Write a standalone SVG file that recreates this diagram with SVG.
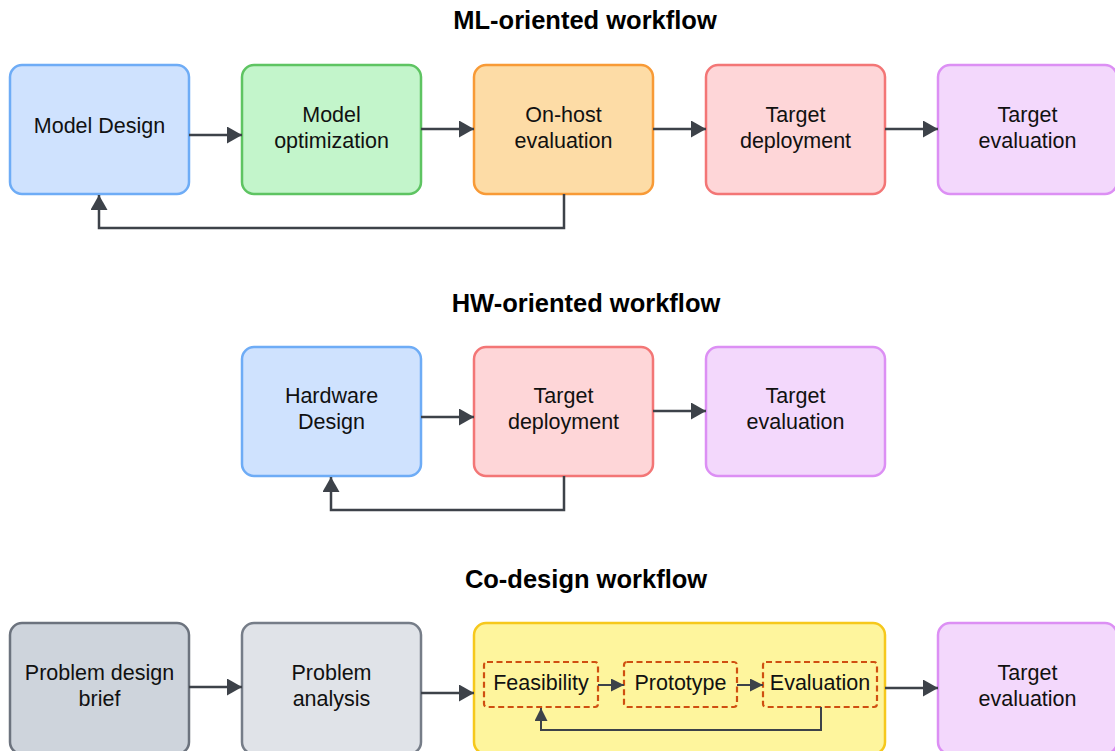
<svg xmlns="http://www.w3.org/2000/svg" width="1115" height="751" viewBox="0 0 1115 751">
<style>
.title{font-family:"Liberation Sans",Arial,sans-serif;font-size:25.5px;font-weight:bold;fill:#000;text-anchor:middle}
.lbl{font-family:"Liberation Sans",Arial,sans-serif;font-size:21.5px;fill:#111;text-anchor:middle}
.box{stroke-width:2.5}
.blue{fill:#cfe2fe;stroke:#6eacf6}
.green{fill:#c3f5cb;stroke:#5ec462}
.orange{fill:#fddca6;stroke:#f89a36}
.red{fill:#fed6d8;stroke:#f37676}
.purple{fill:#f3d8fc;stroke:#dc8ff4}
.gray1{fill:#ced4dc;stroke:#6c737e}
.gray2{fill:#e0e3e8;stroke:#767d88}
.yellow{fill:#fef59d;stroke:#f6c81c}
.dash{fill:none;stroke:#cf4f10;stroke-width:2.2;stroke-dasharray:6 3.5}
.conn{fill:none;stroke:#3d4249;stroke-width:2.5}
.conns{fill:none;stroke:#3d4249;stroke-width:2}
</style>
<defs>
<marker id="ah" markerUnits="userSpaceOnUse" markerWidth="16" markerHeight="18" refX="15" refY="8.5" orient="auto">
<path d="M0,0 L15,8.5 L0,17 Z" fill="#3d4249"/>
</marker>
<marker id="ahs" markerUnits="userSpaceOnUse" markerWidth="14" markerHeight="14" refX="13" refY="6.5" orient="auto">
<path d="M0,0 L13,6.5 L0,13 Z" fill="#3d4249"/>
</marker>
</defs>
<rect width="1115" height="751" fill="#fff"/>

<text class="title" x="585" y="29">ML-oriented workflow</text>
<text class="title" x="586" y="312">HW-oriented workflow</text>
<text class="title" x="586" y="588">Co-design workflow</text>

<g id="ml-model-design"><rect class="box blue" x="10" y="65" width="179" height="129" rx="12"/><text class="lbl" x="99.5" y="133">Model Design</text></g>
<g id="ml-model-optimization"><rect class="box green" x="242" y="65" width="179" height="129" rx="12"/><text class="lbl" x="331.5" y="121.5">Model</text><text class="lbl" x="331.5" y="147.5">optimization</text></g>
<g id="ml-onhost-evaluation"><rect class="box orange" x="474" y="65" width="179" height="129" rx="12"/><text class="lbl" x="563.5" y="121.5">On-host</text><text class="lbl" x="563.5" y="147.5">evaluation</text></g>
<g id="ml-target-deployment"><rect class="box red" x="706" y="65" width="179" height="129" rx="12"/><text class="lbl" x="795.5" y="121.5">Target</text><text class="lbl" x="795.5" y="147.5">deployment</text></g>
<g id="ml-target-evaluation"><rect class="box purple" x="938" y="65" width="179" height="129" rx="12"/><text class="lbl" x="1027.5" y="121.5">Target</text><text class="lbl" x="1027.5" y="147.5">evaluation</text></g>

<g id="hw-hardware-design"><rect class="box blue" x="242" y="347" width="179" height="129" rx="12"/><text class="lbl" x="331.5" y="403">Hardware</text><text class="lbl" x="331.5" y="429">Design</text></g>
<g id="hw-target-deployment"><rect class="box red" x="474" y="347" width="179" height="129" rx="12"/><text class="lbl" x="563.5" y="403">Target</text><text class="lbl" x="563.5" y="429">deployment</text></g>
<g id="hw-target-evaluation"><rect class="box purple" x="706" y="347" width="179" height="129" rx="12"/><text class="lbl" x="795.5" y="403">Target</text><text class="lbl" x="795.5" y="429">evaluation</text></g>

<g id="cd-problem-brief"><rect class="box gray1" x="10" y="623" width="179" height="131" rx="12"/><text class="lbl" x="99.5" y="680">Problem design</text><text class="lbl" x="99.5" y="706">brief</text></g>
<g id="cd-problem-analysis"><rect class="box gray2" x="242" y="623" width="179" height="131" rx="12"/><text class="lbl" x="331.5" y="680">Problem</text><text class="lbl" x="331.5" y="706">analysis</text></g>
<g id="cd-iteration"><rect class="box yellow" x="474" y="623" width="411" height="131" rx="12"/></g>
<g id="cd-feasibility"><rect class="dash" x="484" y="662" width="114" height="45" rx="3"/><text class="lbl" x="541" y="690">Feasibility</text></g>
<g id="cd-prototype"><rect class="dash" x="624" y="662" width="113" height="45" rx="3"/><text class="lbl" x="680.5" y="690">Prototype</text></g>
<g id="cd-evaluation"><rect class="dash" x="763" y="662" width="114" height="45" rx="3"/><text class="lbl" x="820" y="690">Evaluation</text></g>
<g id="cd-target-evaluation"><rect class="box purple" x="938" y="623" width="179" height="131" rx="12"/><text class="lbl" x="1027.5" y="680">Target</text><text class="lbl" x="1027.5" y="706">evaluation</text></g>

<g id="connectors">
<path class="conn" d="M189,135 H242" marker-end="url(#ah)"/>
<path class="conn" d="M421,129 H474" marker-end="url(#ah)"/>
<path class="conn" d="M653,129 H706" marker-end="url(#ah)"/>
<path class="conn" d="M885,129 H938" marker-end="url(#ah)"/>
<path class="conn" d="M564,194 V228 H99 V195" marker-end="url(#ah)"/>

<path class="conn" d="M421,417 H474" marker-end="url(#ah)"/>
<path class="conn" d="M653,411 H706" marker-end="url(#ah)"/>
<path class="conn" d="M564,476 V510 H331 V477" marker-end="url(#ah)"/>

<path class="conn" d="M189,687 H242" marker-end="url(#ah)"/>
<path class="conn" d="M421,693 H474" marker-end="url(#ah)"/>
<path class="conn" d="M885,688 H938" marker-end="url(#ah)"/>
<path class="conns" d="M598,685 H624" marker-end="url(#ahs)"/>
<path class="conns" d="M737,685 H763" marker-end="url(#ahs)"/>
<path class="conns" d="M821,707 V730 H541 V708" marker-end="url(#ahs)"/>
</g>
</svg>
